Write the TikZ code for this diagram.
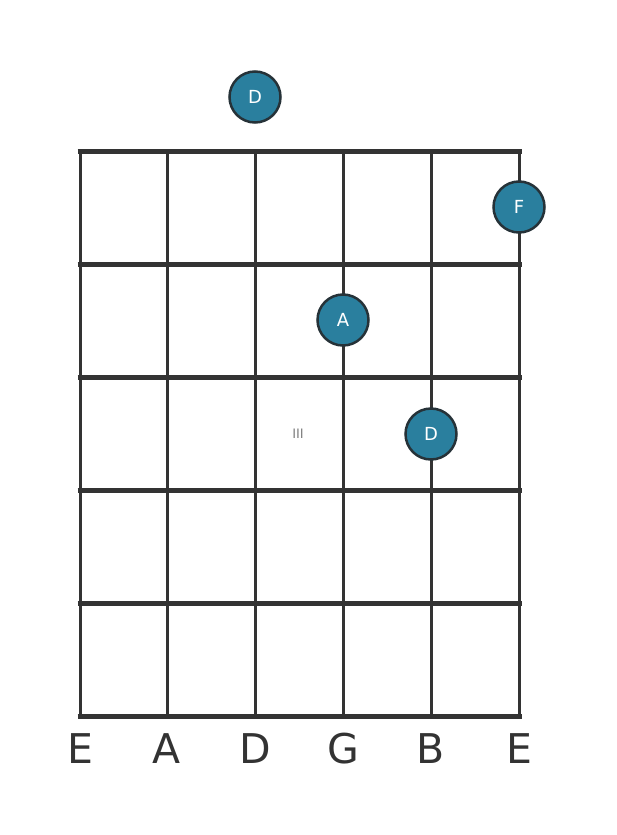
\documentclass[tikz,border=0pt]{standalone}
\usepackage{fontspec}
\setmainfont{DejaVu Sans}
\definecolor{gridc}{HTML}{333333}
\definecolor{dotc}{HTML}{2A7F9E}
\definecolor{dotb}{HTML}{263238}
\begin{document}
\begin{tikzpicture}[x=1bp,y=-1bp,
  fret/.style={draw=gridc,line width=5bp},
  strg/.style={draw=gridc,line width=3bp},
  note/.style={circle,fill=dotc,draw=dotb,line width=2.5bp,minimum size=51bp,inner sep=0pt,text=white,font=\fontsize{18bp}{18bp}\selectfont},
  slabel/.style={text=gridc,font=\fontsize{41bp}{41bp}\selectfont,inner sep=0pt},
  fretnum/.style={text=gray,font=\fontsize{13bp}{13bp}\selectfont,inner sep=0pt}]
\useasboundingbox (0,0) rectangle (617,835);
\foreach \x in {80,167,255,343,431,519} \draw[strg] (\x,151) -- (\x,716);
\foreach \y in {151,264,377,490,603,716} \draw[fret] (77.5,\y) -- (521.5,\y);
\node[slabel] (s1) at (80,749) {E};
\node[slabel] (s2) at (167,749) {A};
\node[slabel] (s3) at (255,749) {D};
\node[slabel] (s4) at (343,749) {G};
\node[slabel] (s5) at (431,749) {B};
\node[slabel] (s6) at (519,749) {E};
\node[fretnum] (p) at (298,434) {III};
\node[note] (n1) at (255,97) {D};
\node[note] (n2) at (519,207) {F};
\node[note] (n3) at (343,320) {A};
\node[note] (n4) at (431,434) {D};
\end{tikzpicture}
\end{document}
